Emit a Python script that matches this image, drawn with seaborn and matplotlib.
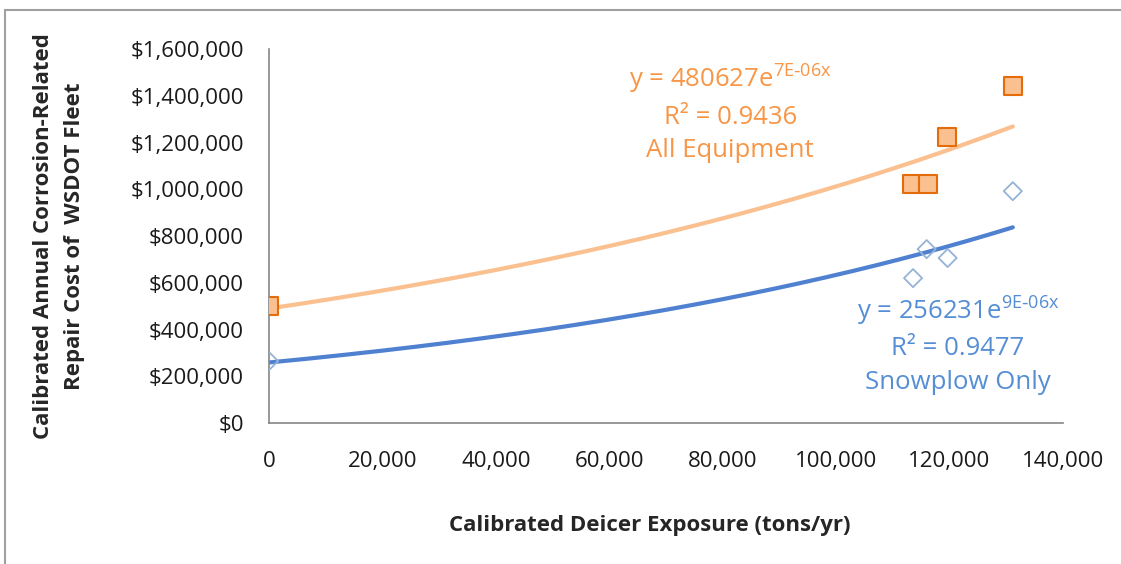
import numpy as np
import pandas as pd
import matplotlib
matplotlib.use("Agg")
import matplotlib.pyplot as plt
import matplotlib.ticker as mticker
from matplotlib.lines import Line2D
import seaborn as sns

# Data
all_x = [0, 113400, 116200, 119600, 131200]
all_y = [500000, 1022000, 1022000, 1223000, 1442000]
snow_x = [0, 113600, 116000, 119700, 131200]
snow_y = [265000, 620000, 744000, 706000, 992000]

x_ticks = [0, 20000, 40000, 60000, 80000, 100000, 120000, 140000]
y_ticks = [0, 200000, 400000, 600000, 800000, 1000000, 1200000, 1400000, 1600000]

sns.set_theme(style="white")
plt.rcParams['font.family'] = ['Open Sans', 'DejaVu Sans']
plt.rcParams['mathtext.default'] = 'regular'

fig = plt.figure(figsize=(11.21, 5.64), dpi=100)
ax = fig.add_axes([0.240, 0.250, 0.708, 0.663])

orange_line = "#FAC090"
orange_edge = "#E46C0A"
orange_face = "#FAC090"
blue_line = "#4F81D0"
blue_marker = "#95B3D7"
orange_text = "#F79646"
blue_text = "#558ED5"

def exp_fit(x, y):
    b, ln_a = np.polyfit(np.asarray(x, float), np.log(np.asarray(y, float)), 1)
    return np.exp(ln_a), b

for xs, ys, col in [(all_x, all_y, orange_line), (snow_x, snow_y, blue_line)]:
    a, b = exp_fit(xs, ys)
    xx = np.linspace(min(xs), max(xs), 200)
    df = pd.DataFrame({"x": xx, "y": a * np.exp(b * xx)})
    sns.lineplot(data=df, x="x", y="y", ax=ax, color=col, linewidth=3, zorder=2)

sns.scatterplot(x=all_x, y=all_y, ax=ax, marker="s", s=180, color=orange_face,
                edgecolor=orange_edge, linewidth=1.5, zorder=3)
sns.scatterplot(x=snow_x, y=snow_y, ax=ax, marker="D", s=85, facecolor="none",
                edgecolor=blue_marker, linewidth=1.3, zorder=3)

ax.set_xlim(0, 140000)
ax.set_ylim(0, 1600000)
ax.set_xticks(x_ticks)
ax.set_yticks(y_ticks)
ax.xaxis.set_major_formatter(mticker.FuncFormatter(lambda v, p: f"{int(v):,}"))
ax.yaxis.set_major_formatter(mticker.FuncFormatter(lambda v, p: f"${int(v):,}"))
ax.tick_params(axis="both", labelsize=16, length=6, width=1,
               direction="out", color="#868686", labelcolor="#1a1a1a")
ax.tick_params(axis="x", pad=14)
ax.tick_params(axis="y", pad=12)
for s in ["top", "right"]:
    ax.spines[s].set_visible(False)
for s in ["left", "bottom"]:
    ax.spines[s].set_color("#868686")
    ax.spines[s].set_linewidth(1.2)

ax.set_xlabel("Calibrated Deicer Exposure (tons/yr)", fontsize=16, fontweight="bold")
ax.set_ylabel("Calibrated Annual Corrosion-Related\nRepair Cost of  WSDOT Fleet",
              fontsize=16, fontweight="bold", linespacing=1.6)
ax.xaxis.set_label_coords(0.48, -0.245)
ax.yaxis.set_label_coords(-0.232, 0.5)
ax.patch.set_alpha(0)

ax.text(0.581, 0.829, "y = 480627e$^{7E\\text{-}06x}$\nR² = 0.9436\nAll Equipment",
        transform=ax.transAxes, ha="center", va="center", fontsize=18.5,
        color=orange_text, linespacing=1.45)
ax.text(0.868, 0.209, "y = 256231e$^{9E\\text{-}06x}$\nR² = 0.9477\nSnowplow Only",
        transform=ax.transAxes, ha="center", va="center", fontsize=18.5,
        color=blue_text, linespacing=1.45)

# outer chart frame (top and left edges visible)
fig.add_artist(Line2D([5/1121, 1], [1 - 10/564, 1 - 10/564], transform=fig.transFigure,
                      color="#A0A0A0", linewidth=1.5))
fig.add_artist(Line2D([5/1121, 5/1121], [0, 1 - 10/564], transform=fig.transFigure,
                      color="#A0A0A0", linewidth=1.5))

fig.savefig("out.png", dpi=100)
